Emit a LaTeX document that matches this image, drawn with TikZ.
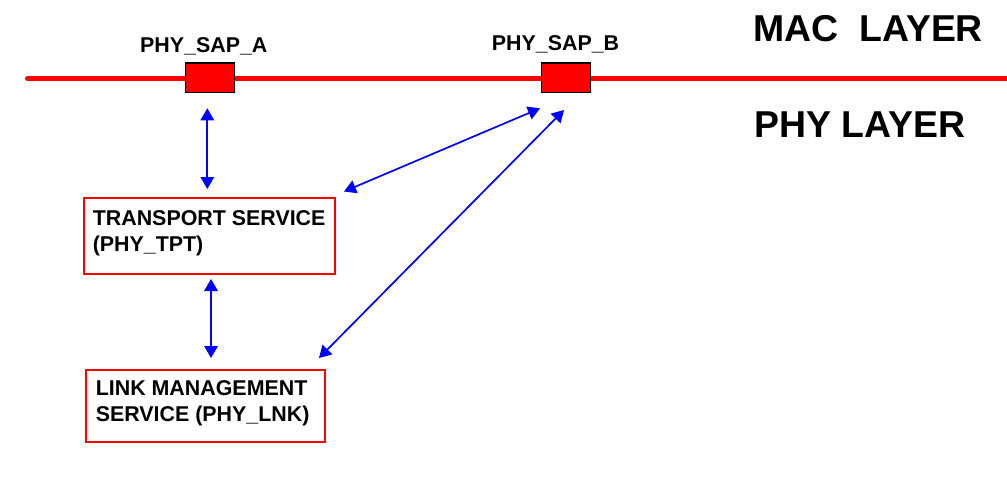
\documentclass[tikz,border=0pt]{standalone}
\usepackage{fontspec}
\setmainfont{Liberation Sans}
\usetikzlibrary{arrows.meta}
\begin{document}
\begin{tikzpicture}[x=1pt,y=-1pt,
  sapbox/.style={draw=black,fill=red,line width=1.4pt,minimum width=49pt,minimum height=29.4pt,inner sep=0pt,anchor=north west},
  svcbox/.style={draw=red,line width=2pt,inner sep=0pt,anchor=north west},
  txt/.style={font=\fontsize{21.4}{26}\selectfont\bfseries,inner sep=0pt,anchor=base west},
  big/.style={font=\fontsize{37.4}{44}\selectfont\bfseries,inner sep=0pt,anchor=base west},
  link/.style={draw=blue,line width=1.7pt,{Triangle[width=13.5pt,length=12pt]}-{Triangle[width=13.5pt,length=12pt]}}]
\useasboundingbox (0,0) rectangle (1007,488);
% layer line
\draw[red,line width=5.4pt,line cap=round] (27.7,78.7) -- (1010,78.7);
% SAP boxes
\node[sapbox] (sapA) at (185,62.3) {};
\node[sapbox] (sapB) at (541,62.3) {};
\node[txt] (labA) at (140,52.3) {PHY\_SAP\_A};
\node[txt] (labB) at (491.7,50) {PHY\_SAP\_B};
% layer titles
\node[big] (mac) at (753.5,41.7) {MAC\ \ LAYER};
\node[big] (phy) at (754.5,137.3) {PHY LAYER};
% service boxes
\node[svcbox,minimum width=251.3pt,minimum height=76.3pt] (tpt) at (82.7,196.7) {};
\node[txt] (tpt1) at (92.6,225.7) {TRANSPORT SERVICE};
\node[txt] (tpt2) at (92.6,251.7) {(PHY\_TPT)};
\node[svcbox,minimum width=239pt,minimum height=72pt] (lnk) at (85,369) {};
\node[txt] (lnk1) at (95.6,395) {LINK MANAGEMENT};
\node[txt] (lnk2) at (95.6,421.5) {SERVICE (PHY\_LNK)};
% connector ends
\coordinate (a1) at (207.3,108.3);
\coordinate (a2) at (207.3,189);
\coordinate (b1) at (211,279);
\coordinate (b2) at (211,358);
\coordinate (c1) at (344,191.5);
\coordinate (c2) at (540,108.3);
\coordinate (d1) at (319,358);
\coordinate (d2) at (564,110);
\draw[link] (a1) -- (a2);
\draw[link] (b1) -- (b2);
\draw[link] (c1) -- (c2);
\draw[link] (d1) -- (d2);
\end{tikzpicture}
\end{document}
